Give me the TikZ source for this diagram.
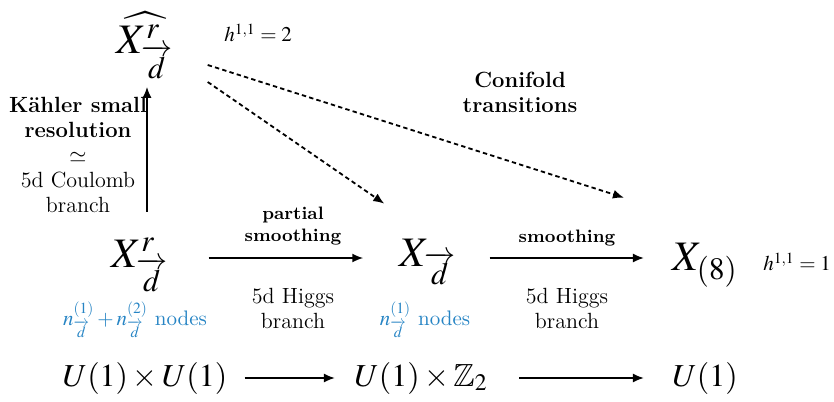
\documentclass[tikz,border=0pt]{standalone}
\usepackage{amsmath}
\usepackage{mathptmx}
\usepackage{amssymb}
\renewcommand{\rmdefault}{lmr}
\usetikzlibrary{arrows.meta,calc}
\definecolor{nodeblue}{RGB}{38,132,196}
\newcommand{\dvec}{\overrightarrow{d}}
\begin{document}
\begin{tikzpicture}[x=0.5pt,y=-0.5pt,
  arr/.style={-{Latex[length=5.5pt,width=4.5pt]}, line width=0.9pt},
  darr/.style={-{Latex[length=5.5pt,width=4.5pt]}, line width=0.9pt, dash pattern=on 2.2pt off 1.6pt},
  big/.style={font=\fontsize{21}{25}\selectfont, inner sep=0pt},
  grp/.style={font=\fontsize{16}{19}\selectfont, inner sep=0pt},
  hh/.style={font=\fontsize{10.5}{12}\selectfont, inner sep=0pt},
  lbl/.style={font=\fontsize{11}{12.5}\selectfont, align=center, inner sep=0pt},
  blbl/.style={font=\fontsize{11}{12.5}\selectfont\bfseries, align=center, inner sep=0pt},
  slbl/.style={font=\fontsize{9}{11}\selectfont\bfseries, align=center, inner sep=0pt},
  bluelbl/.style={font=\fontsize{10.5}{12}\selectfont, text=nodeblue, inner sep=0pt}]
\useasboundingbox (0,0) rectangle (834,401);
\coordinate (midrow) at (0,258);
\coordinate (botrow) at (0,378);
\coordinate (vcol) at (147,0);
% main objects
\node[big] (xh) at (145,45) {$\widehat{X^{r}_{\dvec}}$};
\node[hh] (h2) at (258,33) {$h^{1,1}=2$};
\node[big] (xr) at (140,265) {$X^{r}_{\dvec}$};
\node[big] (xd) at (428,262) {$X_{\dvec}$};
\node[big] (x8) at (705,265) {$X_{(8)}$};
\node[hh] (h1) at (797,262) {$h^{1,1}=1$};
% groups
\node[grp] (g1) at (145,378) {$U(1)\times U(1)$};
\node[grp] (g2) at (421,378) {$U(1)\times \mathbb{Z}_2$};
\node[grp] (g3) at (705,378) {$U(1)$};
% labels
\node[lbl] (kl) at (78,155) {\textbf{Kähler small}\\\textbf{resolution}\\$\simeq$\\5d Coulomb\\branch};
\node[blbl] (cf) at (520,92) {Conifold\\transitions};
\node[slbl] (ps) at (293,226) {partial\\smoothing};
\node[slbl] (sm) at (567,238) {smoothing};
\node[lbl] (hb1) at (293,308) {5d Higgs\\branch};
\node[lbl] (hb2) at (567,308) {5d Higgs\\branch};
\node[bluelbl] (n12) at (135,320) {$n^{(1)}_{\dvec}+n^{(2)}_{\dvec}$ nodes};
\node[bluelbl] (n1) at (425,320) {$n^{(1)}_{\dvec}$ nodes};
% arrows
\draw[arr, shorten <=13pt, shorten >=4pt] (xr.north -| vcol) -- (xh.south -| vcol);
\draw[arr, shorten <=20pt, shorten >=18pt] (xr.east |- midrow) -- (xd.west |- midrow);
\draw[arr, shorten <=16.5pt, shorten >=14pt] (xd.east |- midrow) -- (x8.west |- midrow);
\draw[arr, shorten <=8.5pt, shorten >=9.5pt] (g1.east |- botrow) -- (g2.west |- botrow);
\draw[arr, shorten <=15.5pt, shorten >=14pt] (g2.east |- botrow) -- (g3.west |- botrow);
\draw[darr] ($(xh.east)+(34,20)$) -- ($(x8.north west)+(-48,-45)$);
\draw[darr] ($(xh.east)+(34,37)$) -- ($(xd.north west)+(-15,-35)$);
\end{tikzpicture}
\end{document}
